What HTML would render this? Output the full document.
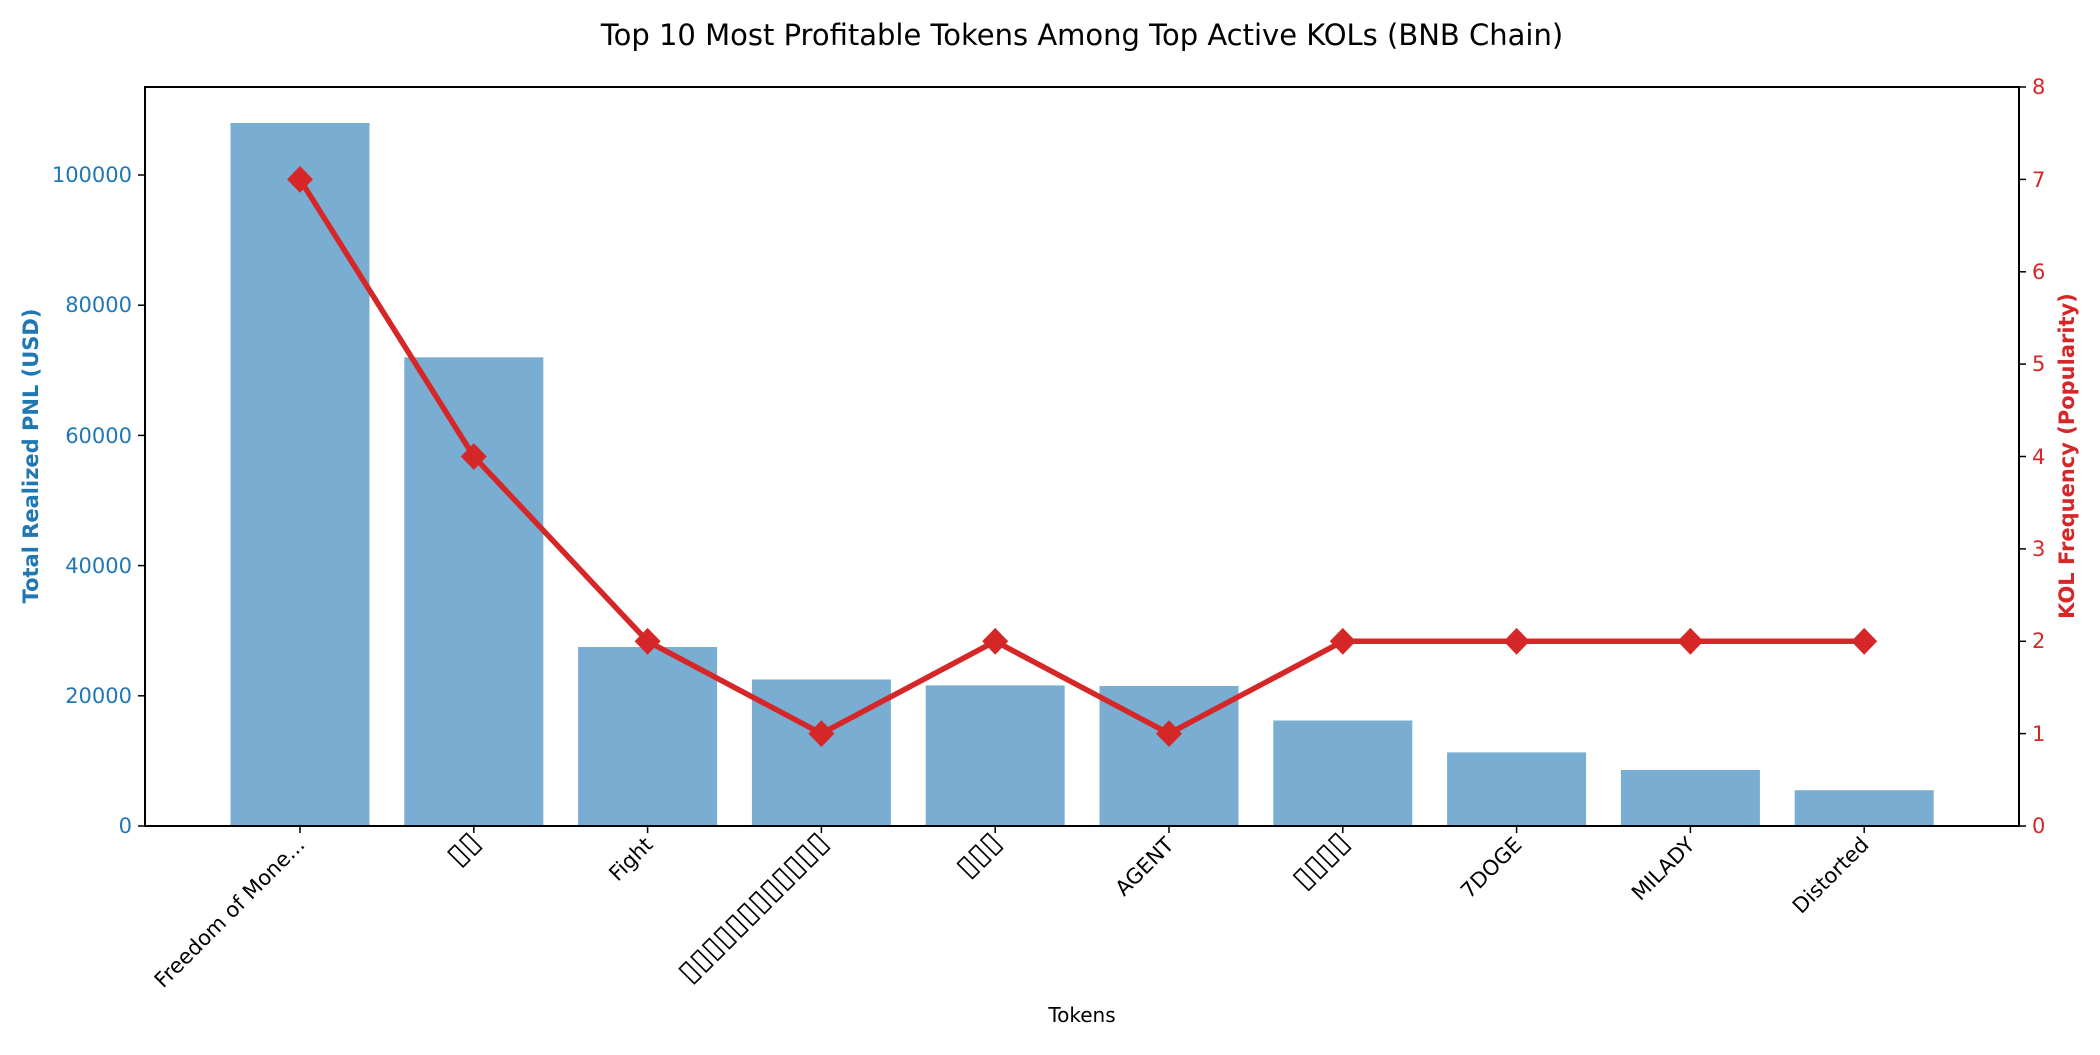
<!DOCTYPE html>
<html><head><meta charset="utf-8"><style>body{margin:0;background:#fff}</style></head><body>
<svg width="2100" height="1050" xmlns="http://www.w3.org/2000/svg" font-family="'DejaVu Sans','Liberation Sans',sans-serif">
<rect width="2100" height="1050" fill="#fff"/>
<text x="1082" y="45" font-size="29" text-anchor="middle">Top 10 Most Profitable Tokens Among Top Active KOLs (BNB Chain)</text>
<g fill="#79add2">
<rect x="230.5" y="123" width="139" height="703"/>
<rect x="404.3" y="357.3" width="139" height="468.7"/>
<rect x="578.1" y="647" width="139" height="179"/>
<rect x="751.9" y="679.5" width="139" height="146.5"/>
<rect x="925.7" y="685.4" width="139" height="140.6"/>
<rect x="1099.5" y="686" width="139" height="140"/>
<rect x="1273.3" y="720.5" width="139" height="105.5"/>
<rect x="1447.1" y="752.4" width="139" height="73.6"/>
<rect x="1620.9" y="770" width="139" height="56"/>
<rect x="1794.7" y="790.2" width="139" height="35.8"/>
</g>
<rect x="145" y="87" width="1874" height="739" fill="none" stroke="#000" stroke-width="2"/>
<g font-size="21" fill="#1f77b4" text-anchor="end">
<text x="132" y="833">0</text><text x="132" y="703">20000</text><text x="132" y="573">40000</text>
<text x="132" y="443">60000</text><text x="132" y="312">80000</text><text x="132" y="182">100000</text>
</g>
<g stroke="#000" stroke-width="1.5">
<line x1="138" y1="826" x2="145" y2="826"/><line x1="138" y1="695.8" x2="145" y2="695.8"/><line x1="138" y1="565.6" x2="145" y2="565.6"/><line x1="138" y1="435.4" x2="145" y2="435.4"/><line x1="138" y1="305.2" x2="145" y2="305.2"/><line x1="138" y1="175" x2="145" y2="175"/>
<line x1="2019" y1="826" x2="2026" y2="826"/><line x1="2019" y1="733.6" x2="2026" y2="733.6"/><line x1="2019" y1="641.3" x2="2026" y2="641.3"/><line x1="2019" y1="548.9" x2="2026" y2="548.9"/><line x1="2019" y1="456.5" x2="2026" y2="456.5"/><line x1="2019" y1="364.1" x2="2026" y2="364.1"/><line x1="2019" y1="271.8" x2="2026" y2="271.8"/><line x1="2019" y1="179.4" x2="2026" y2="179.4"/><line x1="2019" y1="87" x2="2026" y2="87"/>
<line x1="300" y1="826" x2="300" y2="833"/><line x1="473.8" y1="826" x2="473.8" y2="833"/><line x1="647.6" y1="826" x2="647.6" y2="833"/><line x1="821.4" y1="826" x2="821.4" y2="833"/><line x1="995.2" y1="826" x2="995.2" y2="833"/><line x1="1169" y1="826" x2="1169" y2="833"/><line x1="1342.8" y1="826" x2="1342.8" y2="833"/><line x1="1516.6" y1="826" x2="1516.6" y2="833"/><line x1="1690.4" y1="826" x2="1690.4" y2="833"/><line x1="1864.2" y1="826" x2="1864.2" y2="833"/>
</g>
<g font-size="21" fill="#d62728">
<text x="2032" y="833">0</text><text x="2032" y="741">1</text><text x="2032" y="648">2</text><text x="2032" y="556">3</text><text x="2032" y="464">4</text><text x="2032" y="371">5</text><text x="2032" y="279">6</text><text x="2032" y="187">7</text><text x="2032" y="94">8</text>
</g>
<text transform="translate(38,456) rotate(-90)" font-size="21" font-weight="bold" fill="#1f77b4" text-anchor="middle">Total Realized PNL (USD)</text>
<text transform="translate(2074,456) rotate(-90)" font-size="21" font-weight="bold" fill="#d62728" text-anchor="middle">KOL Frequency (Popularity)</text>
<text x="1082" y="1022" font-size="20" text-anchor="middle">Tokens</text>
<g font-size="21" text-anchor="end">
<text transform="translate(306,846) rotate(-45)">Freedom of Mone...</text>
<text transform="translate(482,844) rotate(-45)" font-size="30">▯▯</text>
<text transform="translate(654,846) rotate(-45)">Fight</text>
<text transform="translate(830,844) rotate(-45)" font-size="30">▯▯▯▯▯▯▯▯▯▯▯▯</text>
<text transform="translate(1003,844) rotate(-45)" font-size="30">▯▯▯</text>
<text transform="translate(1175,846) rotate(-45)">AGENT</text>
<text transform="translate(1351,844) rotate(-45)" font-size="30">▯▯▯▯</text>
<text transform="translate(1523,846) rotate(-45)">7DOGE</text>
<text transform="translate(1696,846) rotate(-45)">MILADY</text>
<text transform="translate(1870,846) rotate(-45)">Distorted</text>
</g>
<polyline fill="none" stroke="#d62728" stroke-width="5.5" stroke-linejoin="round" points="300,179.4 473.8,456.5 647.6,641.3 821.4,733.6 995.2,641.3 1169,733.6 1342.8,641.3 1516.6,641.3 1690.4,641.3 1864.2,641.3"/>
<g fill="#d62728">
<path d="M300,166l13,13.4l-13,13.4l-13,-13.4z"/>
<path d="M473.8,443.1l13,13.4l-13,13.4l-13,-13.4z"/>
<path d="M647.6,627.9l13,13.4l-13,13.4l-13,-13.4z"/>
<path d="M821.4,720.2l13,13.4l-13,13.4l-13,-13.4z"/>
<path d="M995.2,627.9l13,13.4l-13,13.4l-13,-13.4z"/>
<path d="M1169,720.2l13,13.4l-13,13.4l-13,-13.4z"/>
<path d="M1342.8,627.9l13,13.4l-13,13.4l-13,-13.4z"/>
<path d="M1516.6,627.9l13,13.4l-13,13.4l-13,-13.4z"/>
<path d="M1690.4,627.9l13,13.4l-13,13.4l-13,-13.4z"/>
<path d="M1864.2,627.9l13,13.4l-13,13.4l-13,-13.4z"/>
</g>
</svg>
</body></html>
